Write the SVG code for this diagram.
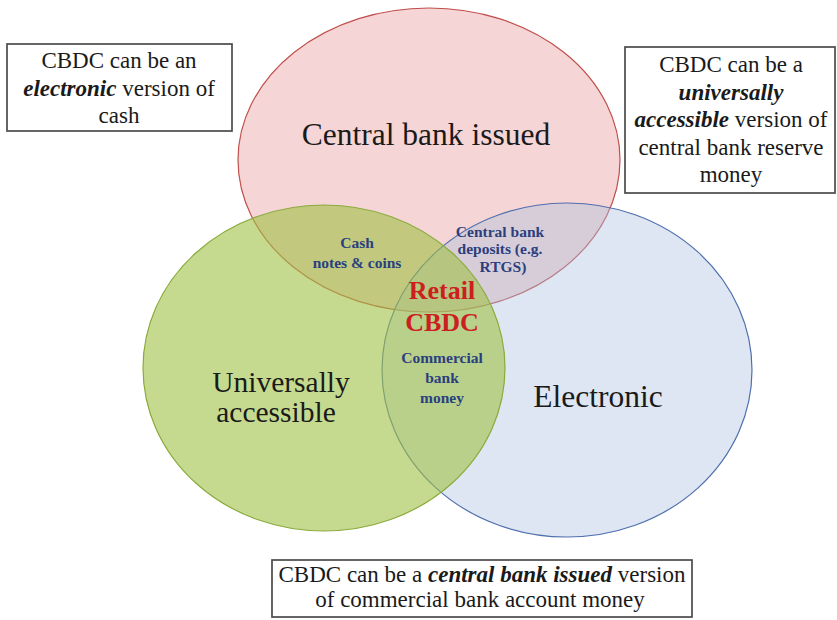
<svg xmlns="http://www.w3.org/2000/svg" width="837" height="620" viewBox="0 0 837 620">
<style>
.t{fill:#1a1a1a;text-anchor:middle}
.big{font-size:31.5px}
.uni{font-size:29.5px}
.box{fill:#fff;stroke:#4a4a4a;stroke-width:1.7}
.bt{font-size:23px}
.em{font-style:italic;font-weight:bold}
.lab{font-size:15.5px;font-weight:bold;fill:#2b3f7e}
.ret{font-size:26px;font-weight:bold;fill:#cc2020}
</style>
<rect width="837" height="620" fill="#fff"/>
<g id="set-central">
<ellipse cx="429" cy="160" rx="191" ry="152" fill="rgb(230,150,150)" fill-opacity="0.4" stroke="#c0504d" stroke-width="1.2"/>
</g>
<g id="set-electronic">
<ellipse cx="567" cy="370" rx="185" ry="167" fill="rgb(170,192,222)" fill-opacity="0.4" stroke="#4f6fae" stroke-width="1.2"/>
</g>
<g id="set-universal">
<ellipse cx="324" cy="368" rx="181" ry="163" fill="rgb(160,193,68)" fill-opacity="0.6" stroke="#8aab3c" stroke-width="1.2"/>
</g>
<g id="labels-sets">
<text class="t big" style="font-family:'Liberation Serif',serif" x="426" y="145">Central bank issued</text>
<text class="t uni" style="font-family:'Liberation Serif',serif" x="281" y="392">Universally</text>
<text class="t uni" style="font-family:'Liberation Serif',serif" x="276" y="422">accessible</text>
<text class="t big" style="font-family:'Liberation Serif',serif" x="598" y="407">Electronic</text>
</g>
<g id="overlap-cash">
<text class="t lab" style="font-family:'Liberation Serif',serif" x="357" y="248">Cash</text>
<text class="t lab" style="font-family:'Liberation Serif',serif" x="357" y="268">notes &amp; coins</text>
</g>
<g id="overlap-deposits">
<text class="t lab" style="font-family:'Liberation Serif',serif" x="500" y="237">Central bank</text>
<text class="t lab" style="font-family:'Liberation Serif',serif" x="500" y="254">deposits (e.g.</text>
<text class="t lab" style="font-family:'Liberation Serif',serif" x="503" y="272">RTGS)</text>
</g>
<g id="overlap-commercial">
<text class="t lab" style="font-family:'Liberation Serif',serif" x="442" y="363">Commercial</text>
<text class="t lab" style="font-family:'Liberation Serif',serif" x="442" y="383">bank</text>
<text class="t lab" style="font-family:'Liberation Serif',serif" x="442" y="403">money</text>
</g>
<g id="center-retail">
<text class="t ret" style="font-family:'Liberation Serif',serif" x="442" y="299">Retail</text>
<text class="t ret" style="font-family:'Liberation Serif',serif" x="442" y="331">CBDC</text>
</g>
<g id="box-electronic">
<rect class="box" x="7" y="44" width="225" height="87"/>
<text class="t bt" style="font-family:'Liberation Serif',serif" x="119" y="68">CBDC can be an</text>
<text class="t bt" style="font-family:'Liberation Serif',serif" x="119" y="96"><tspan class="em">electronic</tspan>  version of</text>
<text class="t bt" style="font-family:'Liberation Serif',serif" x="119" y="123">cash</text>
</g>
<g id="box-universal">
<rect class="box" x="625" y="47" width="210" height="146"/>
<text class="t bt" style="font-family:'Liberation Serif',serif" x="731" y="72">CBDC can be a</text>
<text class="t bt" style="font-family:'Liberation Serif',serif" x="731" y="100"><tspan class="em">universally</tspan></text>
<text class="t bt" style="font-family:'Liberation Serif',serif" x="731" y="127"><tspan class="em">accessible</tspan>  version of</text>
<text class="t bt" style="font-family:'Liberation Serif',serif" x="731" y="155">central bank reserve</text>
<text class="t bt" style="font-family:'Liberation Serif',serif" x="731" y="182">money</text>
</g>
<g id="box-central">
<rect class="box" x="272" y="560" width="420" height="57"/>
<text class="t bt" style="font-family:'Liberation Serif',serif" x="482" y="582">CBDC can be a <tspan class="em">central bank issued</tspan> version</text>
<text class="t bt" style="font-family:'Liberation Serif',serif" x="480" y="607">of commercial bank account money</text>
</g>
<g id="connectors"></g>
</svg>
